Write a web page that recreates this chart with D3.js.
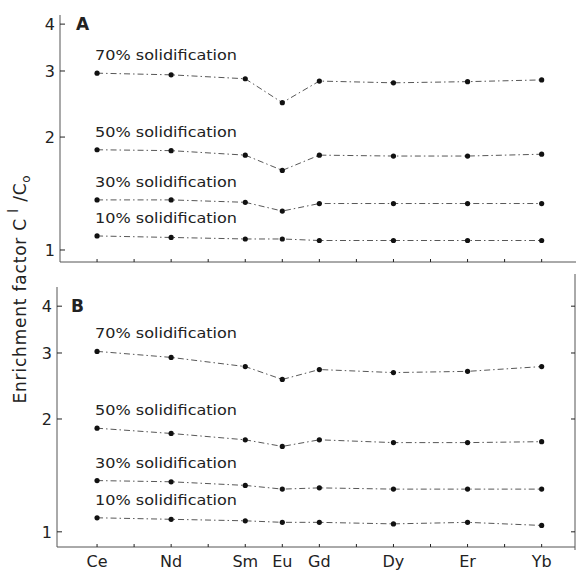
<!DOCTYPE html>
<html>
<head>
<meta charset="utf-8">
<script src="https://cdn.jsdelivr.net/npm/d3@7"></script>
<style>
  body { margin: 0; background: #fff; }
  svg { display: block; font-family: "DejaVu Sans", sans-serif; }
</style>
</head>
<body>
<div id="fig"></div>
<script>
// REE on the x axis, placed by atomic number
var elements = ["Ce", "Nd", "Sm", "Eu", "Gd", "Dy", "Er", "Yb"];
var atomicNo = [58, 60, 62, 63, 64, 66, 68, 70];
var minorTicks = [58, 59, 60, 61, 62, 63, 64, 65, 66, 67, 68, 69, 70];
var yTicks = [1, 2, 3, 4];
var seriesNames = ["70% solidification", "50% solidification", "30% solidification", "10% solidification"];

// panel A, enrichment factor C_l / C_o
var a70 = [2.96, 2.93, 2.86, 2.47, 2.82, 2.79, 2.81, 2.84];
var a50 = [1.85, 1.84, 1.79, 1.63, 1.79, 1.78, 1.78, 1.80];
var a30 = [1.36, 1.36, 1.34, 1.27, 1.33, 1.33, 1.33, 1.33];
var a10 = [1.09, 1.08, 1.07, 1.07, 1.06, 1.06, 1.06, 1.06];

// panel B
var b70 = [3.03, 2.92, 2.76, 2.55, 2.71, 2.66, 2.68, 2.76];
var b50 = [1.89, 1.83, 1.76, 1.69, 1.76, 1.73, 1.73, 1.74];
var b30 = [1.37, 1.36, 1.33, 1.30, 1.31, 1.30, 1.30, 1.30];
var b10 = [1.09, 1.08, 1.07, 1.06, 1.06, 1.05, 1.06, 1.04];

var width = 576, height = 575;
var ink = "#222";

var svg = d3.select("#fig").append("svg")
  .attr("width", width)
  .attr("height", height);

var x = d3.scaleLinear().domain([57, 70.9]).range([60, 575]);

function panel(letter, series, yDomain, yRange, opts) {
  var y = d3.scaleLog().domain(yDomain).range(yRange);
  var g = svg.append("g");
  var x0 = opts.left;

  // left axis
  g.append("line")
    .attr("x1", x0).attr("x2", x0)
    .attr("y1", yRange[1]).attr("y2", yRange[0])
    .attr("stroke", "#555").attr("stroke-width", 1);
  // bottom axis
  g.append("line")
    .attr("x1", x0).attr("x2", opts.right)
    .attr("y1", yRange[0]).attr("y2", yRange[0])
    .attr("stroke", "#555").attr("stroke-width", 1);

  // y ticks, pointing inward
  g.selectAll(".yt").data(yTicks).enter().append("line")
    .attr("x1", x0).attr("x2", x0 + 5)
    .attr("y1", d => y(d)).attr("y2", d => y(d))
    .attr("stroke", ink);
  g.selectAll(".yl").data(yTicks).enter().append("text")
    .attr("x", x0 - 5)
    .attr("y", d => y(d) + 6)
    .attr("text-anchor", "end")
    .attr("font-size", 16)
    .attr("fill", ink)
    .text(d => d);

  // x minor ticks
  g.selectAll(".xt").data(minorTicks).enter().append("line")
    .attr("x1", d => x(d)).attr("x2", d => x(d))
    .attr("y1", yRange[0]).attr("y2", yRange[0] - 3)
    .attr("stroke", ink);

  if (opts.rightAxis) {
    g.append("line")
      .attr("x1", opts.right).attr("x2", opts.right)
      .attr("y1", yRange[1] - 13).attr("y2", yRange[0] + 3)
      .attr("stroke", "#555");
    g.selectAll(".rt").data(yTicks).enter().append("line")
      .attr("x1", opts.right).attr("x2", opts.right - 4)
      .attr("y1", d => y(d)).attr("y2", d => y(d))
      .attr("stroke", ink);
  }

  if (opts.xLabels) {
    g.selectAll(".xl").data(elements).enter().append("text")
      .attr("x", (d, i) => x(atomicNo[i]))
      .attr("y", yRange[0] + 20)
      .attr("text-anchor", "middle")
      .attr("font-size", 16)
      .attr("fill", ink)
      .text(d => d);
  }

  g.append("text")
    .attr("x", opts.letterX)
    .attr("y", y(4) + 6)
    .attr("font-size", 17)
    .attr("font-weight", "bold")
    .attr("fill", ink)
    .text(letter);

  var line = d3.line()
    .x((d, i) => x(atomicNo[i]))
    .y(d => y(d));

  series.forEach(function(s, k) {
    g.append("path")
      .attr("d", line(s))
      .attr("fill", "none")
      .attr("stroke", "#444")
      .attr("stroke-width", 0.9)
      .attr("stroke-dasharray", "6 3 1.5 3");
    g.selectAll(".pt" + k).data(s).enter().append("circle")
      .attr("cx", (d, i) => x(atomicNo[i]))
      .attr("cy", d => y(d))
      .attr("r", 2.6)
      .attr("fill", "#111");
    g.append("text")
      .attr("x", x(atomicNo[0]) - 2)
      .attr("y", y(s[0]) - 13)
      .attr("font-size", 14)
      .attr("textLength", 142)
      .attr("lengthAdjust", "spacingAndGlyphs")
      .attr("fill", ink)
      .text(seriesNames[k]);
  });
}

panel("A", [a70, a50, a30, a10], [0.929, 4.23], [262, 15],
  { left: 60, right: 576, letterX: 76, xLabels: false, rightAxis: false });
panel("B", [b70, b50, b30, b10], [0.911, 4.5], [547, 287],
  { left: 57, right: 575, letterX: 71, xLabels: true, rightAxis: true });

// shared y label
var yl = svg.append("text")
  .attr("transform", "translate(26,289) rotate(-90)")
  .attr("text-anchor", "middle")
  .attr("font-size", 17)
  .attr("letter-spacing", 0.8)
  .attr("fill", ink);
yl.append("tspan").text("Enrichment factor   C");
yl.append("tspan").attr("dy", -8).attr("font-size", 14).text("  l");
yl.append("tspan").attr("dy", 8).text("  /C");
yl.append("tspan").attr("dy", 4).attr("font-size", 12).text("o");
</script>
</body>
</html>
